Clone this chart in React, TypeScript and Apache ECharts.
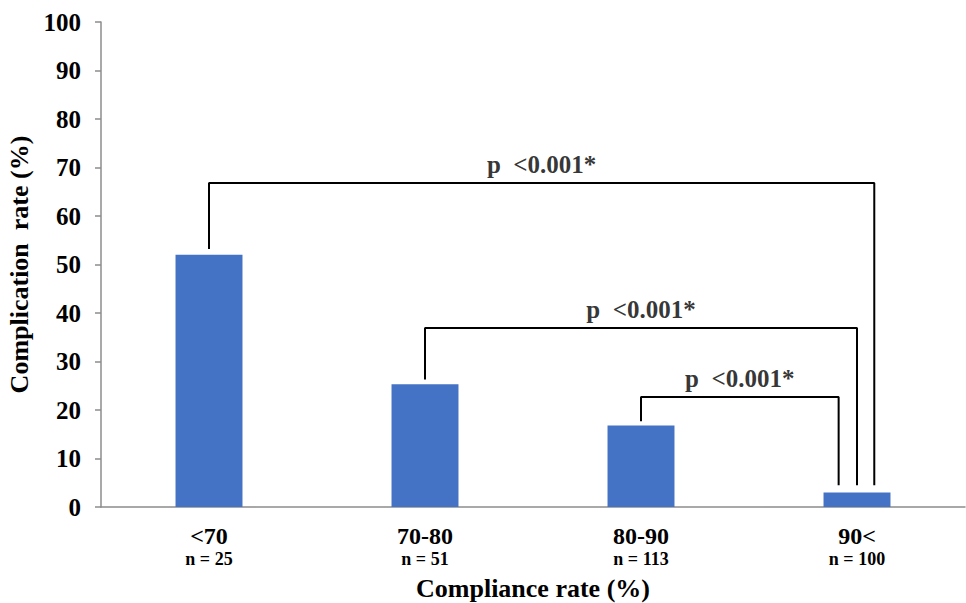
import React, { useEffect, useRef } from "react";
import * as echarts from "echarts";

const categories = ["<70", "70-80", "80-90", "90<"];
const sampleSizes = ["n = 25", "n = 51", "n = 113", "n = 100"];
const complicationRates = [52.0, 25.3, 16.8, 3.0];
const yTicks = { min: 0, max: 100, interval: 10 };

// significance brackets: [leftX, leftStartY, levelY, rightX, rightEndY]
const bracketLeftX = [0, 1, 2];
const bracketLeftStartY = [53.2, 26.3, 17.7];
const bracketLevelY = [66.8, 36.9, 22.7];
const bracketRightX = [3.08, 3.0, 2.915];
const bracketRightEndY = [4.5, 4.5, 4.5];
const bracketLabels = ["p  <0.001*", "p  <0.001*", "p  <0.001*"];

const FONT = "'Liberation Serif', 'Times New Roman', serif";

export default function App() {
  const ref = useRef<HTMLDivElement>(null);
  useEffect(() => {
    if (!ref.current) return;
    const chart = echarts.init(ref.current, undefined, { renderer: "svg" });
    const bracketSeries: any[] = bracketLeftX.map((lx, i) => ({
      type: "line",
      xAxisIndex: 1,
      yAxisIndex: 0,
      symbol: "none",
      silent: true,
      lineStyle: { color: "#000", width: 2 },
      data: [
        [lx, bracketLeftStartY[i]],
        [lx, bracketLevelY[i]],
        [bracketRightX[i], bracketLevelY[i]],
        [bracketRightX[i], bracketRightEndY[i]],
      ],
      z: 5,
    }));
    const labelSeries = {
      type: "scatter",
      xAxisIndex: 1,
      yAxisIndex: 0,
      symbolSize: 0,
      silent: true,
      data: bracketLeftX.map((lx, i) => ({
        value: [(lx + bracketRightX[i]) / 2, bracketLevelY[i]],
        label: {
          show: true,
          position: "top",
          distance: 6,
          formatter: bracketLabels[i],
          fontFamily: FONT,
          fontWeight: "bold",
          fontSize: 25,
          color: "#000",
        },
      })),
    };
    chart.setOption({
      animation: false,
      backgroundColor: "#fff",
      grid: {
        left: 101,
        right: 1,
        top: 22,
        bottom: 96,
        containLabel: false,
        outerBoundsMode: "none",
      },
      xAxis: [
        {
          type: "category",
          data: categories,
          axisLine: { show: true, lineStyle: { color: "#8c8c8c", width: 1.5 } },
          axisTick: { show: false },
          axisLabel: {
            margin: 17,
            interval: 0,
            fontFamily: FONT,
            fontWeight: "bold",
            fontSize: 24,
            color: "#000",
            lineHeight: 24,
            formatter: (v: string, idx: number) => `${v}\n{n|${sampleSizes[idx]}}`,
            rich: {
              n: {
                fontFamily: FONT,
                fontWeight: "bold",
                fontSize: 18,
                color: "#000",
                lineHeight: 21,
              },
            },
          },
          name: "Compliance rate (%)",
          nameLocation: "middle",
          nameGap: 68,
          nameTextStyle: { fontFamily: FONT, fontWeight: "bold", fontSize: 26, color: "#000" },
        },
        {
          type: "value",
          min: -0.5,
          max: 3.5,
          show: false,
        },
      ],
      yAxis: {
        type: "value",
        min: yTicks.min,
        max: yTicks.max,
        interval: yTicks.interval,
        splitLine: { show: false },
        axisLine: { show: true, onZero: false, lineStyle: { color: "#8c8c8c", width: 1.5 } },
        axisTick: { show: true, length: 6, lineStyle: { color: "#8c8c8c", width: 1.5 } },
        axisLabel: {
          margin: 20,
          fontFamily: FONT,
          fontWeight: "bold",
          fontSize: 25,
          color: "#000",
        },
        name: "Complication  rate (%)",
        nameLocation: "middle",
        nameGap: 65,
        nameTextStyle: { fontFamily: FONT, fontWeight: "bold", fontSize: 26, color: "#000" },
      },
      series: [
        {
          type: "bar",
          data: complicationRates,
          barWidth: "31%",
          itemStyle: { color: "#4472C4" },
          silent: true,
        },
        ...bracketSeries,
        labelSeries,
      ],
    });
    return () => chart.dispose();
  }, []);
  return (
    <div
      ref={ref}
      style={{ position: "fixed", left: 0, top: 0, width: 966, height: 603, background: "#fff" }}
    />
  );
}
